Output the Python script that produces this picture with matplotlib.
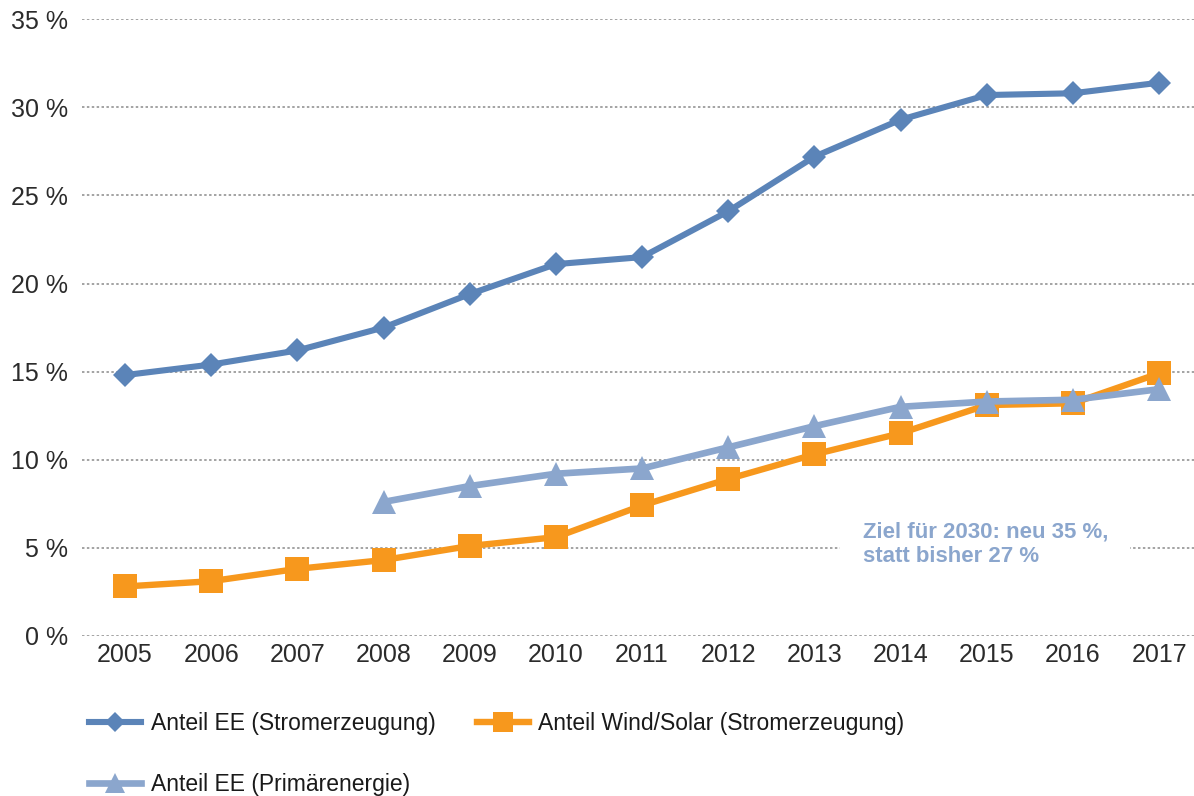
import matplotlib
matplotlib.use("Agg")
import matplotlib.pyplot as plt

plt.rcParams["font.family"] = ["Liberation Sans", "DejaVu Sans"]

years = ["2005", "2006", "2007", "2008", "2009", "2010", "2011",
         "2012", "2013", "2014", "2015", "2016", "2017"]

# Anteil erneuerbarer Energien an der Stromerzeugung (%)
ee_strom = [14.8, 15.4, 16.2, 17.5, 19.4, 21.1, 21.5,
            24.1, 27.2, 29.3, 30.7, 30.8, 31.4]

# Anteil Wind und Solar an der Stromerzeugung (%)
wind_solar = [2.8, 3.1, 3.8, 4.3, 5.1, 5.6, 7.4,
              8.9, 10.3, 11.5, 13.1, 13.2, 14.9]

# Anteil erneuerbarer Energien am Primärenergieverbrauch (%), ab 2008
prim_years = ["2008", "2009", "2010", "2011", "2012",
              "2013", "2014", "2015", "2016", "2017"]
ee_primaer = [7.6, 8.5, 9.2, 9.5, 10.7, 11.9, 13.0, 13.3, 13.4, 14.0]

y_ticks = [0, 5, 10, 15, 20, 25, 30, 35]
y_tick_labels = [f"{v} %" for v in y_ticks]

legend_labels = ["Anteil EE (Stromerzeugung)",
                 "Anteil Wind/Solar (Stromerzeugung)",
                 "Anteil EE (Primärenergie)"]
note = "Ziel für 2030: neu 35 %,\nstatt bisher 27 %"

c_blue = "#5b84b8"
c_orange = "#f7981d"
c_light = "#8ba6cd"

fig = plt.figure(figsize=(11.94, 7.96), dpi=100)
W, H = 1194, 796
left, right = 81.9, 1202.2
top, bottom = 19.3, 635.8
ax = fig.add_axes([left / W, 1 - bottom / H, (right - left) / W, (bottom - top) / H])

xs = list(range(len(years)))
xp = [years.index(y) for y in prim_years]

l1, = ax.plot(xs, ee_strom, color=c_blue, lw=4.4, marker="D", ms=12.4,
              mew=0, solid_joinstyle="miter", zorder=4, clip_on=False)
l2, = ax.plot(xs, wind_solar, color=c_orange, lw=4.6, marker="s", ms=17.6,
              mew=0, zorder=5, clip_on=False)
l3, = ax.plot(xp, ee_primaer, color=c_light, lw=4.8, marker="^", ms=17.3,
              mew=0, zorder=6, clip_on=False)

ax.set_xlim(-0.5, len(years) - 0.5)
ax.set_ylim(0, 35)
ax.set_xticks(xs)
ax.set_xticklabels(years)
ax.set_yticks(y_ticks)
ax.set_yticklabels(y_tick_labels)
ax.tick_params(axis="both", length=0, labelsize=18, colors="#2b2b2b")
ax.tick_params(axis="y", pad=10)
ax.tick_params(axis="x", pad=5)

for s in ax.spines.values():
    s.set_visible(False)
ax.yaxis.grid(True, color="#8a8a8a", lw=1.1, linestyle=(0, (1.6, 1.6)))
ax.set_axisbelow(True)

ax.text(8.56, 5.2, note, ha="left", va="center", fontsize=16,
        fontweight="bold", color=c_light, linespacing=1.2, zorder=3,
        bbox=dict(boxstyle="square,pad=1.0", fc="white", ec="none"))

fig.legend([l1, l3, l2], [legend_labels[0], legend_labels[2], legend_labels[1]],
           ncol=2, loc="center left", bbox_to_anchor=(88.7 / W, 1 - 754 / H),
           frameon=False, fontsize=16.5, handlelength=2.3, handletextpad=0.4,
           columnspacing=1.8, labelspacing=1.7, borderpad=0, borderaxespad=0,
           markerscale=0.85, labelcolor="#1a1a1a")

fig.savefig("out.png", dpi=100)
